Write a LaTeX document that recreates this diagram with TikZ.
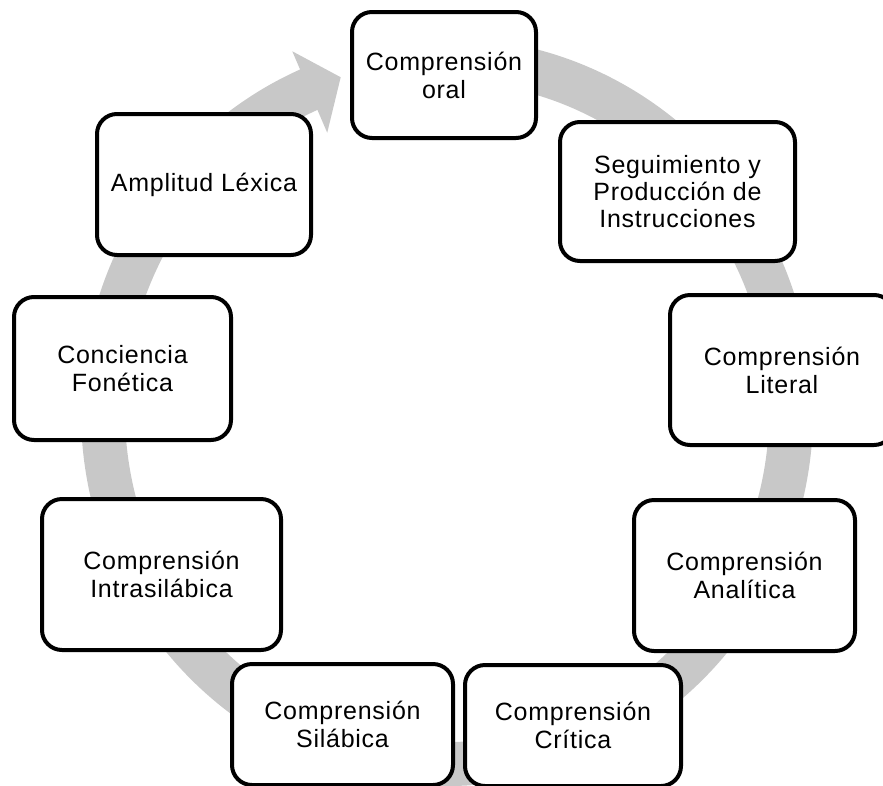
\documentclass[tikz,border=0pt]{standalone}
\usepackage{fontspec}
\setmainfont{Liberation Sans}[LetterSpace=3]
\usetikzlibrary{calc}
\definecolor{ringgray}{RGB}{200,200,200}
\begin{document}
\begin{tikzpicture}[x=1pt,y=-1pt,
  stage/.style={draw=black, line width=4pt, fill=white, rounded corners=20pt,
    align=center, inner sep=0pt, font=\fontsize{25}{28}\selectfont},
  dims/.style 2 args={minimum width=#1pt, minimum height=#2pt},
  ring/.style={draw=ringgray, line width=44pt}]
\useasboundingbox (0,0) rectangle (883,785);
\clip (0,0) rectangle (883,785);

% circular arrow behind the stages
\coordinate (c) at (447,412);
\draw[ring] (c) ++(-100:344 and 352)
  arc[start angle=-100, end angle=247, x radius=344, y radius=352];
\fill[ringgray] ($(c)+(246.3:298 and 305)$) -- ($(c)+(252:344 and 352)$)
  -- ($(c)+(246.3:385 and 394)$) -- cycle;

% stages of the cycle
\node[stage, dims={184}{126}] (oral) at (444,75) {Comprensión\\oral};
\node[stage, dims={235}{139}, font=\fontsize{25}{27}\selectfont] (seg) at (677.5,191.5)
  {Seguimiento y\\Producción de\\Instrucciones};
\node[stage, dims={224}{150}] (lit) at (782,370) {Comprensión\\Literal};
\node[stage, dims={221}{151}] (ana) at (744.5,575.5) {Comprensión\\Analítica};
\node[stage, dims={216}{121}] (cri) at (573,725.5) {Comprensión\\Crítica};
\node[stage, dims={221}{121}] (sil) at (342.5,724.5) {Comprensión\\Silábica};
\node[stage, dims={239}{151}] (intra) at (161.5,574.5) {Comprensión\\Intrasilábica};
\node[stage, dims={217}{143}] (fon) at (122.5,368.5) {Conciencia\\Fonética};
\node[stage, dims={214}{141}] (amp) at (204,184.5) {Amplitud Léxica};
\end{tikzpicture}
\end{document}
